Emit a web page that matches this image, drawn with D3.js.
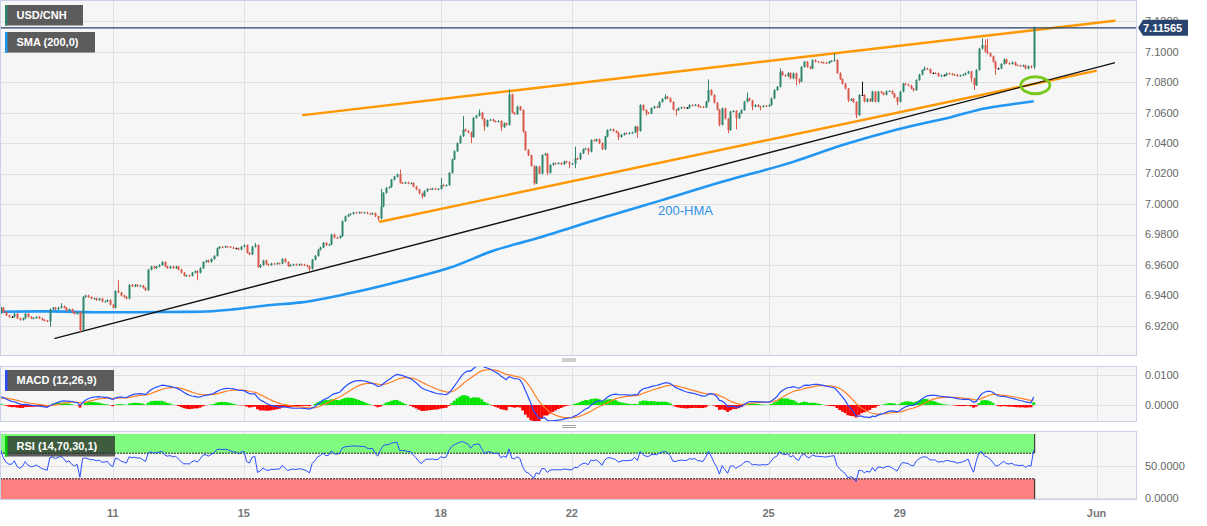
<!DOCTYPE html>
<html><head><meta charset="utf-8">
<script src="https://cdn.jsdelivr.net/npm/d3@7"></script>
<style>body{margin:0;background:#fff;} svg{display:block;font-family:"Liberation Sans",Arial,sans-serif;}</style>
</head><body><svg id="c" width="1207" height="526"></svg>
<script>
// ---------- DATA ----------
const tickIndex = [41, 89, 161, 209, 281, 329, 401];
const tickLabels = ["11", "15", "18", "22", "25", "29", "Jun"];
const priceTicks = [6.92, 6.94, 6.96, 6.98, 7.00, 7.02, 7.04, 7.06, 7.08, 7.10, 7.12];
const macdTicks = [0, 0.01];
const rsiTicks = [0, 50];
const firstOpen = 6.9285;
const closes = [
6.9320,6.9290,6.9270,6.9260,6.9260,6.9280,6.9250,6.9240,6.9250,6.9280,
6.9260,6.9250,6.9252,6.9260,6.9250,6.9240,6.9235,6.9230,6.9310,6.9320,
6.9310,6.9320,6.9330,6.9320,6.9300,6.9310,6.9290,6.9280,6.9290,6.9175,
6.9390,6.9400,6.9390,6.9380,6.9382,6.9370,6.9380,6.9360,6.9362,6.9370,
6.9340,6.9320,6.9430,6.9420,6.9400,6.9390,6.9380,6.9470,6.9460,6.9470,
6.9462,6.9465,6.9450,6.9435,6.9570,6.9590,6.9580,6.9590,6.9600,6.9620,
6.9590,6.9580,6.9590,6.9580,6.9590,6.9570,6.9550,6.9530,6.9532,6.9530,
6.9550,6.9560,6.9550,6.9580,6.9620,6.9630,6.9620,6.9640,6.9660,6.9710,
6.9720,6.9718,6.9722,6.9720,6.9715,6.9710,6.9710,6.9702,6.9720,6.9730,
6.9680,6.9670,6.9720,6.9730,6.9586,6.9600,6.9630,6.9605,6.9600,6.9610,
6.9608,6.9612,6.9610,6.9640,6.9620,6.9593,6.9600,6.9605,6.9600,6.9605,
6.9603,6.9598,6.9590,6.9575,6.9635,6.9660,6.9700,6.9715,6.9746,6.9730,
6.9735,6.9800,6.9780,6.9778,6.9790,6.9888,6.9919,6.9930,6.9936,6.9945,
6.9943,6.9946,6.9944,6.9945,6.9938,6.9935,6.9940,6.9920,6.9905,6.9984,
7.0074,7.0107,7.0112,7.0160,7.0180,7.0195,7.0140,7.0138,7.0142,7.0135,
7.0138,7.0115,7.0096,7.0070,7.0052,7.0085,7.0100,7.0098,7.0102,7.0097,
7.0100,7.0125,7.0120,7.0125,7.0205,7.0293,7.0347,7.0400,7.0446,7.0490,
7.0480,7.0470,7.0440,7.0566,7.0580,7.0600,7.0560,7.0510,7.0550,7.0555,
7.0545,7.0540,7.0545,7.0505,7.0530,7.0520,7.0720,7.0600,7.0590,7.0640,
7.0617,7.0475,7.0355,7.0320,7.0250,7.0136,7.0246,7.0200,7.0322,7.0330,
7.0205,7.0257,7.0268,7.0265,7.0270,7.0262,7.0280,7.0275,7.0262,7.0265,
7.0300,7.0295,7.0333,7.0360,7.0365,7.0345,7.0420,7.0415,7.0425,7.0400,
7.0360,7.0443,7.0486,7.0490,7.0480,7.0470,7.0440,7.0455,7.0465,7.0462,
7.0467,7.0470,7.0508,7.0480,7.0650,7.0617,7.0600,7.0595,7.0630,7.0640,
7.0635,7.0670,7.0690,7.0705,7.0694,7.0670,7.0620,7.0617,7.0630,7.0635,
7.0632,7.0632,7.0650,7.0648,7.0652,7.0640,7.0638,7.0635,7.0672,7.0748,
7.0716,7.0665,7.0620,7.0520,7.0628,7.0560,7.0486,7.0607,7.0612,7.0563,
7.0595,7.0617,7.0672,7.0694,7.0680,7.0640,7.0650,7.0640,7.0639,7.0645,
7.0642,7.0650,7.0694,7.0748,7.0770,7.0869,7.0846,7.0840,7.0860,7.0825,
7.0858,7.0820,7.0805,7.0900,7.0934,7.0900,7.0890,7.0945,7.0935,7.0932,
7.0930,7.0928,7.0925,7.0935,7.0940,7.0945,7.0860,7.0820,7.0790,7.0758,
7.0680,7.0690,7.0670,7.0584,7.0716,7.0716,7.0672,7.0690,7.0675,7.0738,
7.0672,7.0738,7.0730,7.0718,7.0740,7.0742,7.0725,7.0700,7.0672,7.0738,
7.0790,7.0785,7.0778,7.0758,7.0748,7.0814,7.0850,7.0880,7.0890,7.0885,
7.0860,7.0860,7.0858,7.0840,7.0845,7.0845,7.0858,7.0855,7.0850,7.0848,
7.0840,7.0845,7.0850,7.0858,7.0870,7.0825,7.0780,7.0880,7.1020,7.1044,
7.1000,7.0990,7.0970,7.0934,7.0890,7.0890,7.0920,7.0950,7.0925,7.0920,
7.0930,7.0912,7.0910,7.0905,7.0910,7.0890,7.0905,7.0900,7.1157
];
const wickHigh = [[22,6.9350],[43,6.9500],[93,6.9745],[139,7.0100],[146,7.0227],[161,7.0170],[169,7.0577],
  [175,7.0620],[186,7.0752],[210,7.0377],[243,7.0720],[259,7.0818],[273,7.0733],[285,7.0890],[305,7.0990],
  [315,7.0803],[338,7.0903],[359,7.1087],[360,7.1080],[361,7.1085],[378,7.1164]];
const wickLow = [[18,6.9195],[29,6.9160],[72,6.9500],[113,6.9560],[138,6.9890],[154,7.0036],[172,7.0400],
  [177,7.0480],[183,7.0480],[195,7.0126],[200,7.0190],[208,7.0235],[210,7.0235],[215,7.0325],[226,7.0420],
  [233,7.0435],[236,7.0580],[247,7.0580],[263,7.0510],[266,7.0465],[269,7.0490],[275,7.0615],[278,7.0615],
  [291,7.0780],[292,7.0790],[310,7.0670],[313,7.0563],[328,7.0650],[334,7.0738],[355,7.0800],[356,7.0749],
  [364,7.0847],[377,7.0890],[378,7.0885]];
// 200 SMA sampled (index, value)
const smaIdx = [0, 18, 36, 61, 73, 85, 99, 110, 128, 148, 164, 181, 194, 220, 242, 264, 290, 308, 327, 348, 360, 372, 378];
const smaVal = [6.9294, 6.9296, 6.9290, 6.9292, 6.9294, 6.9309, 6.9338, 6.9355, 6.9416, 6.9502, 6.9580, 6.9698,
  6.9764, 6.9908, 7.0026, 7.0146, 7.0277, 7.0387, 7.0485, 7.0572, 7.0627, 7.0660, 7.0675];
// trend lines: [startIndex, startPrice, endIndex, endPrice]
const upperChannel = [110.7, 7.0584, 407.6, 7.1203];
const lowerChannel = [138.8, 6.9884, 400.7, 7.0874];
const supportLine = [19.9, 6.9119, 407.5, 7.0927];
const circleMark = [378.6, 7.0780];
const lastPrice = 7.11565;
const macdSeed = { fast: 6.9300, slow: 6.9272, signal: 0.0022 };
const rsiSeed = { gain: 0.00065, loss: 0.00030 };

// ---------- SCALES ----------
const svg = d3.select("#c");
const PR = 1136.5;
const x = d3.scaleLinear().domain([0, 415.8]).range([0.65, 1137]);
const yP = d3.scaleLinear().domain([6.92, 7.10]).range([326, 51.7]);
const yM = d3.scaleLinear().domain([0, 0.01]).range([405, 375]);
const yR = d3.scaleLinear().domain([0, 50]).range([498, 466]);
const panels = [{t:0.5,b:355.5,id:"pm"},{t:366.5,b:421.5,id:"pmacd"},{t:431.5,b:499.5,id:"prsi"}];
const defs = svg.append("defs");
panels.forEach(p=>{
  defs.append("clipPath").attr("id",p.id).append("rect").attr("x",0.5).attr("y",p.t).attr("width",PR-0.5).attr("height",p.b-p.t);
  svg.append("rect").attr("x",0.5).attr("y",p.t).attr("width",PR-0.5).attr("height",p.b-p.t).attr("fill","#f6f6f6");
});
const gridC = "#e1e1e1";
// vertical grid
panels.forEach(p=>{
  svg.append("g").selectAll("line").data(tickIndex).join("line")
    .attr("x1",d=>Math.round(x(d))+0.5).attr("x2",d=>Math.round(x(d))+0.5).attr("y1",p.t).attr("y2",p.b)
    .attr("stroke",gridC).attr("stroke-width",1);
});
svg.append("g").selectAll("line").data(priceTicks).join("line")
  .attr("x1",0.5).attr("x2",PR).attr("y1",d=>Math.round(yP(d))+0.5).attr("y2",d=>Math.round(yP(d))+0.5)
  .attr("stroke",gridC);
svg.append("g").selectAll("line").data(macdTicks).join("line")
  .attr("x1",0.5).attr("x2",PR).attr("y1",d=>Math.round(yM(d))+0.5).attr("y2",d=>Math.round(yM(d))+0.5).attr("stroke",gridC);
svg.append("g").selectAll("line").data(rsiTicks).join("line")
  .attr("x1",0.5).attr("x2",PR).attr("y1",d=>Math.round(yR(d))+0.5).attr("y2",d=>Math.round(yR(d))+0.5).attr("stroke",gridC);

// ---------- MAIN ----------
const gm = svg.append("g").attr("clip-path","url(#pm)");
const smaData = smaIdx.map((d,k)=>[d,smaVal[k]]);
gm.append("path").datum(smaData).attr("fill","none").attr("stroke","#2196f3").attr("stroke-width",2.6)
  .attr("d",d3.line().x(d=>x(d[0])).y(d=>yP(d[1])).curve(d3.curveMonotoneX));
function seg(arr, color, w){
  gm.append("line").attr("x1",x(arr[0])).attr("y1",yP(arr[1])).attr("x2",x(arr[2])).attr("y2",yP(arr[3]))
    .attr("stroke",color).attr("stroke-width",w).attr("stroke-linecap","round");
}
seg(upperChannel,"#ff9800",2.4);
seg(lowerChannel,"#ff9800",2.4);
seg(supportLine,"#111",1.4);

const hiMap = new Map(wickHigh), loMap = new Map(wickLow);
const candles = closes.map((c,i)=>{
  const o = i===0 ? firstOpen : closes[i-1];
  const h = hiMap.has(i) ? hiMap.get(i) : Math.max(o,c)+0.0005;
  const l = loMap.has(i) ? loMap.get(i) : Math.min(o,c)-0.0005;
  return {i,o,h,l,c};
});
const col = d => d.c>d.o ? "#2e866e" : (d.c<d.o ? "#d9584a" : "#111");
gm.append("g").selectAll("line").data(candles).join("line")
  .attr("x1",d=>Math.round(x(d.i))+0.5).attr("x2",d=>Math.round(x(d.i))+0.5)
  .attr("y1",d=>yP(d.h)).attr("y2",d=>yP(d.l)).attr("stroke",col).attr("stroke-width",1);
gm.append("g").selectAll("rect").data(candles).join("rect")
  .attr("x",d=>Math.round(x(d.i))-0.5).attr("width",2)
  .attr("y",d=>Math.min(yP(d.o),yP(d.c)))
  .attr("height",d=>Math.max(1,Math.abs(yP(d.o)-yP(d.c)))).attr("fill",col);

// last price line
gm.append("line").attr("x1",0).attr("x2",PR).attr("y1",yP(lastPrice)).attr("y2",yP(lastPrice))
  .attr("stroke","#243f66").attr("stroke-width",1.2);
// circle mark
svg.append("ellipse").attr("cx",x(circleMark[0])).attr("cy",yP(circleMark[1])).attr("rx",14.5).attr("ry",8.5)
  .attr("fill","none").attr("stroke","#78c81e").attr("stroke-width",2.8);
svg.append("text").attr("x",658).attr("y",215).attr("fill","#2e93e8").attr("font-size",13).text("200-HMA");

// ---------- MACD ----------
const a12=2/13, a26=2/27, a9=2/10;
let ef=macdSeed.fast, es=macdSeed.slow, sg=macdSeed.signal;
const macd = closes.map((c,i)=>{
  ef = ef + a12*(c-ef); es = es + a26*(c-es);
  const m = ef-es; sg = sg + a9*(m-sg);
  return {i, m, s:sg, h:m-sg};
});
const gmacd = svg.append("g").attr("clip-path","url(#pmacd)");
gmacd.append("g").selectAll("rect").data(macd).join("rect")
  .attr("x",d=>x(d.i)-1.4).attr("width",2.9)
  .attr("y",d=>Math.min(yM(0),yM(d.h))).attr("height",d=>Math.abs(yM(d.h)-yM(0)))
  .attr("fill",d=>d.h>=0?"#00e400":"#ff0000");
gmacd.append("path").datum(macd).attr("fill","none").attr("stroke","#ff7f27").attr("stroke-width",1.2)
  .attr("d",d3.line().x(d=>x(d.i)).y(d=>yM(d.s)));
gmacd.append("path").datum(macd).attr("fill","none").attr("stroke","#2a4dff").attr("stroke-width",1.2)
  .attr("d",d3.line().x(d=>x(d.i)).y(d=>yM(d.m)));

// ---------- RSI ----------
let ag=rsiSeed.gain, al=rsiSeed.loss;
const rsi = closes.map((c,i)=>{
  const prev = i===0?firstOpen:closes[i-1];
  const ch = c-prev;
  ag = (ag*13 + Math.max(ch,0))/14; al = (al*13 + Math.max(-ch,0))/14;
  return {i, v: 100 - 100/(1+ag/al)};
});
const grsi = svg.append("g").attr("clip-path","url(#prsi)");
const xEnd = x(closes.length-1)+1;
grsi.append("rect").attr("x",0).attr("width",xEnd).attr("y",yR(100)).attr("height",yR(70)-yR(100)).attr("fill","#80fb80");
grsi.append("rect").attr("x",0).attr("width",xEnd).attr("y",yR(30)).attr("height",yR(0)-yR(30)+2).attr("fill","#ff8080");
[70,30].forEach(v=>grsi.append("line").attr("x1",0).attr("x2",xEnd).attr("y1",yR(v)).attr("y2",yR(v))
  .attr("stroke","#222").attr("stroke-dasharray","2,1").attr("stroke-width",1));
grsi.append("line").attr("x1",xEnd).attr("x2",xEnd).attr("y1",yR(100)).attr("y2",yR(70)).attr("stroke","#222");
grsi.append("line").attr("x1",xEnd).attr("x2",xEnd).attr("y1",yR(30)).attr("y2",yR(0)+2).attr("stroke","#222");
grsi.append("path").datum(rsi).attr("fill","none").attr("stroke","#2a4dff").attr("stroke-width",1)
  .attr("d",d3.line().x(d=>x(d.i)).y(d=>yR(d.v)));

// panel borders
panels.forEach(p=>svg.append("rect").attr("x",0.5).attr("y",p.t).attr("width",PR-0.5).attr("height",p.b-p.t)
  .attr("fill","none").attr("stroke","#c9d1e6"));
// separators
[360.5,427].forEach(yy=>{[ -1.5, 0.5].forEach(o=>svg.append("line").attr("x1",562).attr("x2",576).attr("y1",yy+o).attr("y2",yy+o).attr("stroke","#888").attr("stroke-width",0.8));});

// ---------- AXES TEXT ----------
const axC = "#666";
svg.append("g").selectAll("text").data(priceTicks).join("text")
  .attr("x",1145).attr("y",d=>yP(d)).attr("dy","0.35em").attr("font-size",11).attr("fill",axC).text(d3.format(".4f"));
svg.append("g").selectAll("text").data(macdTicks).join("text")
  .attr("x",1145).attr("y",d=>yM(d)).attr("dy","0.35em").attr("font-size",11).attr("fill",axC).text(d3.format(".4f"));
svg.append("g").selectAll("text").data(rsiTicks).join("text")
  .attr("x",1145).attr("y",d=>yR(d)).attr("dy","0.35em").attr("font-size",11).attr("fill",axC).text(d3.format(".4f"));
svg.append("g").selectAll("text").data(tickIndex).join("text")
  .attr("x",d=>x(d)).attr("y",513).attr("dy","0.35em").attr("text-anchor","middle").attr("font-size",11)
  .attr("font-weight","bold").attr("fill","#777").text((d,k)=>tickLabels[k]);

// last price tag
const ly = yP(lastPrice);
svg.append("path").attr("d",`M1138,${ly} L1143,${ly-8} L1188,${ly-8} L1188,${ly+8} L1143,${ly+8} Z`).attr("fill","#27446e");
svg.append("text").attr("x",1143).attr("y",ly).attr("dy","0.36em").attr("font-size",11).attr("font-weight","bold")
  .attr("fill","#fff").text(lastPrice.toFixed(5));

// ---------- LABELS ----------
function tag(x0,y0,w,h,t,bar){
  svg.append("rect").attr("x",x0).attr("y",y0).attr("width",w).attr("height",h).attr("fill","rgba(40,40,40,0.75)");
  svg.append("rect").attr("x",x0).attr("y",y0).attr("width",2.5).attr("height",h).attr("fill",bar);
  svg.append("text").attr("x",x0+11.5).attr("y",y0+h/2).attr("dy","0.36em").attr("font-size",11)
    .attr("font-weight","bold").attr("fill","#fff").text(t);
}
tag(5,5,78,20.5,"USD/CNH","#2e866e");
tag(5,32,90,20.5,"SMA (200,0)","#2196f3");
tag(5,370,109,21,"MACD (12,26,9)","#2a4dff");
tag(5,436,110,20.5,"RSI (14,70,30,1)","#00d400");
</script></body></html>
